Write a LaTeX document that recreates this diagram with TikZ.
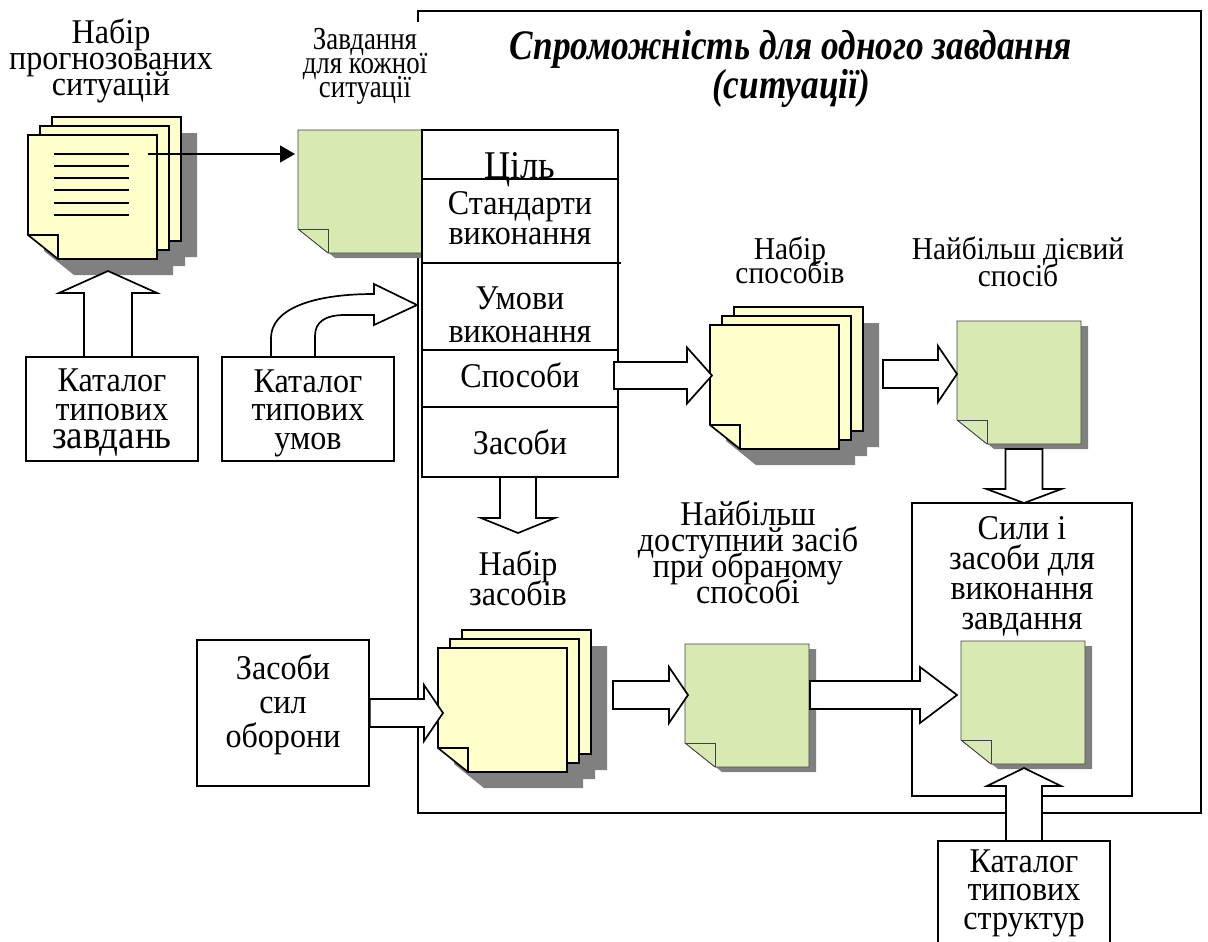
\documentclass[tikz,border=0pt]{standalone}
\usepackage{fontspec}
\setmainfont[FakeStretch=0.925]{Liberation Serif}
\newfontfamily\titlefont[FakeStretch=0.84]{Liberation Serif}
\usetikzlibrary{calc,arrows.meta}

\definecolor{sheetyellow}{HTML}{FFFFCC}
\definecolor{sheetgreen}{HTML}{D8E9B2}
\definecolor{sheetgrey}{HTML}{808080}

\tikzset{
	every node/.style={align=center,inner sep=0pt,font=\fontsize{34.7}{28.5}\selectfont,
		execute at begin node={\lineskiplimit=-100pt\relax}},
	frameline/.style={line width=1.7pt},
	catalogbox/.style={draw,line width=1.7pt,fill=white,minimum width=172pt},
	hollow/.style={draw,line width=1.7pt,fill=white,line join=miter},
	yellowsheet/.style={draw,fill=sheetyellow,line width=1.7pt},
	greensheet/.style={draw=black!75,fill=sheetgreen,line width=0.9pt},
}

% name, left, top, width, height, style
\newcommand{\docsheet}[6]{
	\begin{scope}[shift={(#2,#3)}]
		\node (#1) [minimum width=#4pt,minimum height=#5pt] at ({#4/2},{#5/2}) {};
		\path [#6] (0,0) -- (#4,0) -- (#4,#5) -- (30,#5) -- (0,{#5-24}) -- cycle;
		\draw [#6,fill=none] (0,{#5-24}) -- (30,{#5-24}) -- (30,#5);
	\end{scope}
}
% left, top, width, height, offset x, offset y
\newcommand{\sheetshadow}[6]{
	\fill [sheetgrey,shift={(#1+#5,#2+#6)}] (0,0) -- (#3,0) -- (#3,#4) -- (30,#4) -- (0,{#4-24}) -- cycle;
}
% name, left, top of the front sheet
\newcommand{\sheetstack}[3]{
	\sheetshadow{#2+24}{#3-18}{129}{124}{16}{16}
	\sheetshadow{#2+12}{#3-9}{129}{124}{16}{16}
	\sheetshadow{#2}{#3}{129}{124}{16}{16}
	\docsheet{#1back}{#2+24}{#3-18}{129}{124}{yellowsheet}
	\docsheet{#1mid}{#2+12}{#3-9}{129}{124}{yellowsheet}
	\docsheet{#1}{#2}{#3}{129}{124}{yellowsheet}
}
% name, left, top
\newcommand{\greenpage}[3]{
	\sheetshadow{#2}{#3}{124}{123}{7}{5}
	\docsheet{#1}{#2}{#3}{124}{123}{greensheet}
}
% from, to, half of shaft, half of head, length of head
\newcommand{\hollowarrow}[5]{
	\coordinate (headbase) at ($(#2)!#5pt!(#1)$);
	\draw [hollow] ($(#1)!#3pt!90:(headbase)$) -- ($(headbase)!#3pt!-90:(#1)$)
		-- ($(headbase)!#4pt!-90:(#1)$) -- (#2) -- ($(headbase)!#4pt!90:(#1)$)
		-- ($(headbase)!#3pt!90:(#1)$) -- ($(#1)!#3pt!-90:(headbase)$) -- cycle;
}

\begin{document}
\begin{tikzpicture}[x=1pt,y=-1pt]
	\useasboundingbox (0,0) rectangle (1208,942);

	% outer frame and its title
	\draw [frameline] (418,11) -- (1201,11) -- (1201,813) -- (418,813) -- cycle;
	\node (zavdlabel) [fill=white,minimum width=130pt,minimum height=115pt] at (365,79.5) {};
	\node (zavdtext) [font=\fontsize{32}{24}\selectfont\titlefont] at (365,66) {Завдання\\для кожної\\ситуації};
	\node (title) [font=\fontsize{42}{39}\selectfont\titlefont\bfseries\itshape] at (791,69) {Спроможність для одного завдання\\(ситуації)};

	% left column
	\node (setlabel) [font=\fontsize{34.7}{26}\selectfont] at (111,61) {Набір\\прогнозованих\\ситуацій};
	\sheetstack{sitstack}{28}{135}
	\foreach \y in {154,166,178,190,203,215}
		\draw [line width=1.3pt] (54,\y) -- (129,\y);
	\node (catzavd) [catalogbox,minimum height=104pt] at (112,409) {};
	\node (catzavdtext) at (112,413) {Каталог\\типових\\{\fontsize{40}{28.5}\selectfont завдань}};
	\node (catumov) [catalogbox,minimum height=104pt] at (308,409) {};
	\node (catumovtext) at (308,413) {Каталог\\типових\\умов};
	\coordinate (catzavdtop) at (108,357);
	\coordinate (sitbottom) at (108,271);
	\hollowarrow{catzavdtop}{sitbottom}{24}{49}{22}

	\draw [hollow] (271,357) -- (271,338) .. controls (271,310) and (310,294) .. (374,294)
		-- (374,284) -- (417,305) -- (374,325) -- (374,315) -- (345,315)
		.. controls (325,315) and (315,322) .. (315,336) -- (315,357) -- cycle;

	% task sheet and table
	\greenpage{zavdsheet}{298}{130}
	\coordinate (sitline) at (148,154);
	\coordinate (zavdin) at (295,154);
	\draw [line width=1.3pt,-{Triangle[length=15pt,width=17pt]}] (sitline) -- (zavdin);

	\node (table) [draw,line width=1.7pt,fill=white,minimum width=196pt,minimum height=347pt] at (520,303.5) {};
	\draw [frameline] (422,179) -- (618,179);
	\draw [frameline] (422,263) -- (621,263);
	\draw [frameline] (422,350) -- (618,350);
	\draw [frameline] (422,407) -- (618,407);
	\node (goal) [font=\fontsize{39.3}{34}\selectfont] at (520,169.5) {Ціль};
	\node (standard) [font=\fontsize{34.7}{30}\selectfont] at (520,218) {Стандарти\\виконання};
	\node (conditions) [font=\fontsize{34.7}{33}\selectfont] at (520,315) {Умови\\виконання};
	\node (ways) at (520,375) {Способи};
	\node (means) at (520,442) {Засоби};

	% ways
	\node (wayslabel) [font=\fontsize{31.8}{24}\selectfont] at (790,260) {Набір\\способів};
	\sheetstack{waystack}{710}{325}
	\coordinate (waysout) at (614,375.5);
	\coordinate (waysin) at (712,375.5);
	\hollowarrow{waysout}{waysin}{13.5}{28}{25}
	\node (bestlabel) [font=\fontsize{31.8}{27}\selectfont] at (1018,262) {Найбільш дієвий\\спосіб};
	\greenpage{bestway}{957}{321}
	\coordinate (stackout) at (883,374);
	\coordinate (bestin) at (957,374);
	\hollowarrow{stackout}{bestin}{14}{28}{19}

	% forces box
	\node (forces) [draw,line width=1.7pt,minimum width=220pt,minimum height=293pt] at (1022,649.5) {};
	\node (forceslabel) [font=\fontsize{34.7}{30}\selectfont] at (1022,576) {Сили і\\засоби для\\виконання\\завдання};
	\coordinate (bestout) at (1024,449);
	\coordinate (forcesin) at (1024,503);
	\hollowarrow{bestout}{forcesin}{18.5}{37.5}{14}

	% means
	\coordinate (meansout) at (518,477);
	\coordinate (meansin) at (518,533);
	\hollowarrow{meansout}{meansin}{18}{37}{15}
	\node (meanslabel) [font=\fontsize{34.7}{30}\selectfont] at (518,578) {Набір\\засобів};
	\node (defence) [draw,line width=1.7pt,fill=white,minimum width=172pt,minimum height=146pt] at (283,713) {};
	\node (defencetext) [font=\fontsize{34.7}{34}\selectfont] at (283,705) {Засоби\\сил\\оборони};
	\sheetstack{meanstack}{438}{648}
	\coordinate (defencein) at (443,713);
	\hollowarrow{defence.east}{defencein}{14}{28}{19}

	\node (dostlabel) [font=\fontsize{34.7}{26}\selectfont] at (748,552) {Найбільш\\доступний засіб\\при обраному\\способі};
	\greenpage{bestmean}{685}{644}
	\coordinate (meanstackout) at (613,695);
	\coordinate (bestmeanin) at (688,695);
	\hollowarrow{meanstackout}{bestmeanin}{14}{28}{19}
	\greenpage{forcesheet}{961}{641}
	\coordinate (forcesheetin) at (957,695);
	\coordinate (bestmeanout) at (810,695);
	\hollowarrow{bestmeanout}{forcesheetin}{14}{28}{37}

	% bottom catalogue, cut by the page
	\node (catstruct) [draw,line width=1.7pt,fill=white,minimum width=172pt,minimum height=120pt] at (1024,901) {};
	\node (catstructtext) at (1024,893) {Каталог\\типових\\структур};
	\coordinate (catstructtop) at (1024,841);
	\coordinate (forcesheetbottom) at (1024,768);
	\hollowarrow{catstructtop}{forcesheetbottom}{18}{37}{18}
\end{tikzpicture}
\end{document}
